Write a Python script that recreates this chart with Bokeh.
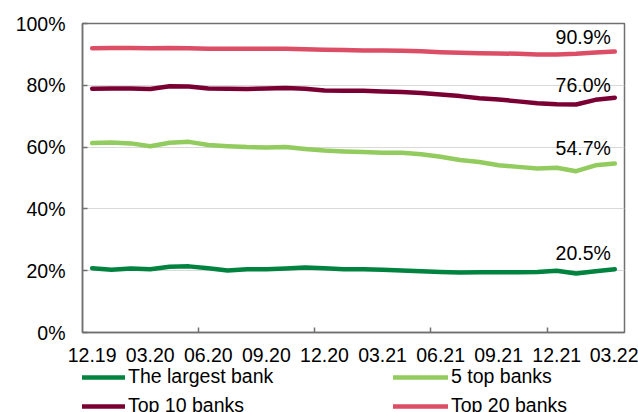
from bokeh.plotting import figure
from bokeh.layouts import column
from bokeh.models import (ColumnDataSource, Range1d, FixedTicker, Legend,
                          LegendItem, Label)
from bokeh.embed import file_html
from bokeh.resources import INLINE

# Monthly observations, Dec 2019 - Mar 2022
months = ["12.19",
          "01.20", "02.20", "03.20", "04.20", "05.20", "06.20",
          "07.20", "08.20", "09.20", "10.20", "11.20", "12.20",
          "01.21", "02.21", "03.21", "04.21", "05.21", "06.21",
          "07.21", "08.21", "09.21", "10.21", "11.21", "12.21",
          "01.22", "02.22", "03.22"]

# Share of banking-sector assets, %
largest_bank = [20.8, 20.3, 20.7, 20.5, 21.3, 21.4, 20.8, 20.1, 20.5, 20.5,
                20.7, 21.0, 20.8, 20.5, 20.5, 20.3, 20.1, 19.8, 19.6, 19.4,
                19.5, 19.5, 19.5, 19.6, 20.0, 19.1, 19.8, 20.5]
top5_banks = [61.3, 61.5, 61.2, 60.3, 61.4, 61.7, 60.7, 60.3, 60.0, 59.9,
              60.0, 59.4, 58.9, 58.6, 58.4, 58.2, 58.2, 57.7, 56.9, 55.8,
              55.2, 54.1, 53.6, 53.1, 53.3, 52.2, 54.1, 54.7]
top10_banks = [78.9, 79.0, 79.0, 78.8, 79.7, 79.6, 79.0, 78.9, 78.8, 79.0,
               79.1, 78.9, 78.3, 78.2, 78.2, 78.0, 77.8, 77.5, 77.0, 76.5,
               75.8, 75.4, 74.8, 74.2, 73.9, 73.8, 75.3, 76.0]
top20_banks = [92.0, 92.1, 92.1, 92.0, 92.1, 92.0, 91.8, 91.8, 91.8, 91.8,
               91.8, 91.7, 91.5, 91.4, 91.3, 91.3, 91.2, 91.0, 90.7, 90.5,
               90.4, 90.3, 90.2, 90.0, 90.0, 90.2, 90.6, 90.9]

series_names = ["The largest bank", "5 top banks", "Top 10 banks", "Top 20 banks"]
series_values = [largest_bank, top5_banks, top10_banks, top20_banks]
series_colors = ["#00833F", "#92CB5E", "#7A0033", "#DC4D66"]

FONT = "Liberation Sans"
FONT_SIZE = "19.5px"
LINE_W = 4.5
idx = list(range(len(months)))

p = figure(width=638, height=368, output_backend="svg", toolbar_location=None,
           x_range=Range1d(-0.5, len(months) - 0.5), y_range=Range1d(0, 100),
           min_border_left=82, min_border_right=14, min_border_top=23,
           min_border_bottom=36)
p.background_fill_color = "white"
p.border_fill_color = "white"
p.outline_line_color = "#707070"
p.outline_line_width = 1.5

for vals, col in zip(series_values, series_colors):
    src = ColumnDataSource(dict(x=idx, y=vals))
    p.line("x", "y", source=src, line_color=col, line_width=LINE_W,
           line_cap="round", line_join="round")

# End-of-period value labels, floated above the last point
label_dy = [16, 15, 12.5, 15]
for vals, dy in zip(series_values, label_dy):
    p.add_layout(Label(x=idx[-1], y=vals[-1], text="%.1f%%" % vals[-1],
                       x_offset=-4, y_offset=dy, text_align="right",
                       text_baseline="alphabetic", text_font=FONT,
                       text_font_size=FONT_SIZE, text_color="#000000"))

# Y axis
p.yaxis.ticker = FixedTicker(ticks=[0, 20, 40, 60, 80, 100])
p.yaxis.major_label_overrides = {v: "%d%%" % v for v in [0, 20, 40, 60, 80, 100]}
p.yaxis.major_tick_in = 5
p.yaxis.major_tick_out = 0
p.yaxis.minor_tick_line_color = None
p.yaxis.major_label_standoff = 17

# X axis: quarterly labels, tick marks every half-year between categories
quarter_idx = idx[::3]
p.xaxis.ticker = FixedTicker(ticks=quarter_idx,
                             minor_ticks=[5.5, 11.5, 17.5, 23.5])
p.xaxis.major_label_overrides = {i: months[i] for i in quarter_idx}
p.xaxis.major_tick_in = 0
p.xaxis.major_tick_out = 0
p.xaxis.minor_tick_in = 5
p.xaxis.minor_tick_out = 0
p.xaxis.major_label_standoff = 15

for ax in (p.xaxis, p.yaxis):
    ax.axis_line_color = "#707070"
    ax.axis_line_width = 1.5
    ax.major_tick_line_color = "#707070"
    ax.major_tick_line_width = 1.5
    ax.minor_tick_line_width = 1.5
    ax.major_label_text_font = FONT
    ax.major_label_text_font_size = FONT_SIZE
    ax.major_label_text_color = "#000000"
p.xaxis.minor_tick_line_color = "#707070"

p.xgrid.grid_line_color = None
p.ygrid.ticker = FixedTicker(ticks=[20, 40, 60, 80])
p.ygrid.grid_line_color = "#D9D9D9"
p.ygrid.grid_line_width = 1

# Legend strip: a bare plot holding only the two-column key
key = figure(width=638, height=44, output_backend="svg", toolbar_location=None,
             x_range=Range1d(0, 1), y_range=Range1d(0, 1),
             x_axis_location=None, y_axis_location=None,
             min_border=0, outline_line_color=None)
key.grid.visible = False
nan = float("nan")
key_lines = [key.line(x=[nan], y=[nan], line_color=c, line_width=LINE_W,
                      line_cap="round") for c in series_colors]

def key_legend(order, loc):
    return Legend(items=[LegendItem(label=series_names[i],
                                    renderers=[key_lines[i]]) for i in order],
                  location=loc, orientation="vertical",
                  glyph_width=55, glyph_height=20, label_height=20,
                  spacing=6, padding=0, margin=0, label_standoff=3,
                  label_text_font=FONT, label_text_font_size=FONT_SIZE,
                  label_text_color="#000000",
                  background_fill_alpha=0, border_line_alpha=0)

# the strip's frame lines up with the chart frame above (left edge at 82 px)
key.add_layout(key_legend([0, 2], (-12, -5)), "center")
key.add_layout(key_legend([1, 3], (311, -5)), "center")

layout = column(p, key, spacing=0)
open("out.html", "w").write(file_html(layout, INLINE))
